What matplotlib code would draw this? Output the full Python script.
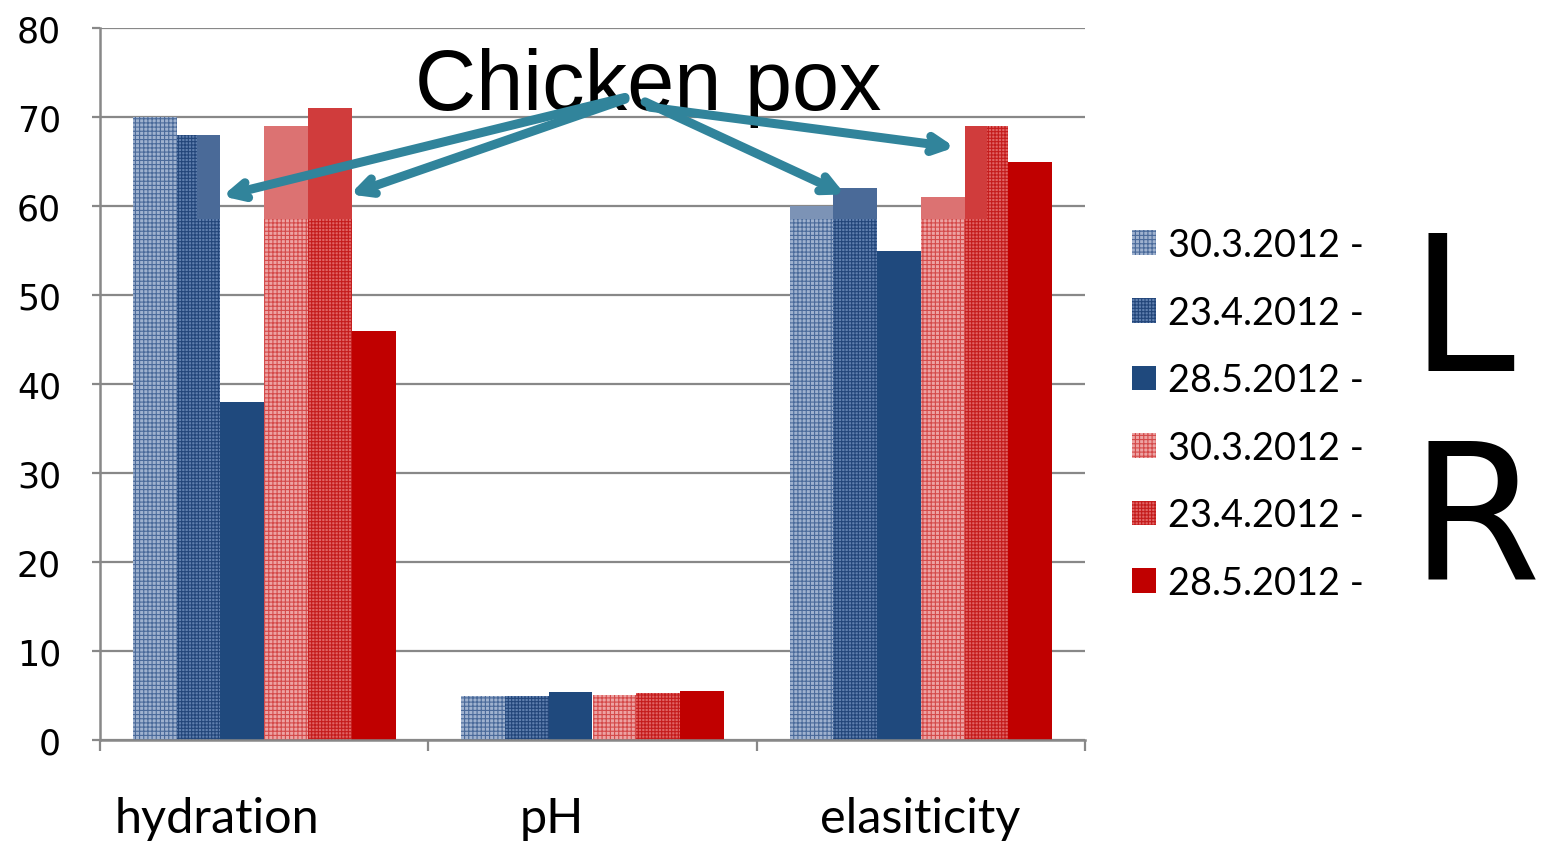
import matplotlib
matplotlib.use("Agg")
import matplotlib.pyplot as plt
from matplotlib.patches import Patch
import numpy as np

# ---- data -------------------------------------------------------------
categories = ["hydration", "pH", "elasiticity"]
series_labels = ["30.3.2012 -", "23.4.2012 -", "28.5.2012 -",
                 "30.3.2012 -", "23.4.2012 -", "28.5.2012 -"]
left_30_3 = [70, 4.9, 60]
left_23_4 = [68, 5.0, 62]
left_28_5 = [38, 5.4, 55]
right_30_3 = [69, 5.1, 61]
right_23_4 = [71, 5.3, 69]
right_28_5 = [46, 5.5, 65]
series_values = [left_30_3, left_23_4, left_28_5, right_30_3, right_23_4, right_28_5]
y_ticks = [0, 10, 20, 30, 40, 50, 60, 70, 80]

# ---- styles -----------------------------------------------------------
base_colors = ["#9fb2cf", "#5f7fae", "#1f497d", "#eda3a3", "#e06464", "#c00000"]
hatch_colors = ["#4a6a9a", "#23467a", "#1f497d", "#d44a4a", "#c41c1c", "#c00000"]
hatches = ["++++", "+++++", None, "++++", "+++++", None]
# solid wash over the upper part of the patterned bars
wash_colors = ["#7c93b6", "#4a6a98", None, "#dc7272", "#d03c3c", None]
WASH_FROM = 58.5
# horizontal extent (fraction of bar width) of the wash, per series and category
wash_extent = {
    (1, 0): (0.47, 1.0), (3, 0): (0.0, 1.0), (4, 0): (0.0, 1.0),
    (0, 2): (0.0, 1.0), (1, 2): (0.0, 1.0), (3, 2): (0.0, 1.0), (4, 2): (0.0, 0.5),
}

plt.rcParams["hatch.linewidth"] = 0.8
GRID = "#888888"

fig = plt.figure(figsize=(15.47, 8.45), dpi=100)
W, H = 1547, 845
ax = fig.add_axes([100 / W, 1 - 741 / H, 985 / W, 712 / H])

x = np.arange(len(categories))
n = len(series_values)
width = 0.8 / n

for i, vals in enumerate(series_values):
    pos = x + (i - (n - 1) / 2) * width
    ax.bar(pos, vals, width, color=base_colors[i], edgecolor=hatch_colors[i],
           hatch=hatches[i], linewidth=0, zorder=3)
    for j, v in enumerate(vals):
        if (i, j) in wash_extent and v > WASH_FROM:
            a, b = wash_extent[(i, j)]
            left = pos[j] - width / 2 + a * width
            ax.bar(left, v - WASH_FROM, (b - a) * width, bottom=WASH_FROM,
                   align="edge", color=wash_colors[i], linewidth=0, zorder=4)

ax.set_xlim(-0.5, len(categories) - 0.5)
ax.set_ylim(0, 80)
ax.set_yticks(y_ticks)
ax.set_yticklabels([str(t) for t in y_ticks], fontsize=25, family="DejaVu Sans")
ax.yaxis.grid(True, color=GRID, linewidth=1.6, zorder=1)
ax.set_axisbelow(True)

ax.set_xticks(np.arange(len(categories) + 1) - 0.5)
ax.set_xticklabels([])
ax.tick_params(axis="x", direction="out", length=8, width=1.6, color=GRID)
ax.tick_params(axis="y", direction="out", length=6, width=1.6, color=GRID, pad=22)

for s in ["top", "right"]:
    ax.spines[s].set_visible(False)
for s in ["left", "bottom"]:
    ax.spines[s].set_color(GRID)
    ax.spines[s].set_linewidth(1.8)
    ax.spines[s].set_zorder(5)

# category names below the axis
label_shift = [-0.144, -0.123, -0.002]
for j, name in enumerate(categories):
    ax.text(x[j] + label_shift[j], -0.11, name, transform=ax.get_xaxis_transform(),
            ha="center", va="center", fontsize=35, family="Lato")

# legend
handles = [Patch(facecolor=base_colors[i], edgecolor=hatch_colors[i],
                 hatch=hatches[i], linewidth=0) for i in range(n)]
fig.legend(handles, series_labels, loc="upper left",
           bbox_to_anchor=(1132 / W, 1 - 228 / H), frameon=False,
           prop={"family": "Lato", "size": 27.3}, labelspacing=0.833,
           handlelength=0.62, handleheight=0.62, handletextpad=0.33,
           borderpad=0, borderaxespad=0)

# big side letters
fig.text(1410 / W, 1 - 371 / H, "L", fontsize=136, family="DejaVu Sans",
         ha="left", va="baseline")
fig.text(1410 / W, 1 - 579 / H, "R", fontsize=136, family="DejaVu Sans",
         ha="left", va="baseline")

# annotation with arrows
ax.text(1.17, 70.95, "Chicken pox", fontsize=61, family="Liberation Sans",
        ha="center", va="baseline", zorder=6)
ARROW = "#31849b"
arrow_props = dict(arrowstyle="->,head_length=1.1,head_width=0.55", lw=6.5,
                   color=ARROW, shrinkA=0, shrinkB=0)
for start, end in [((1.099, 72.2), (-0.128, 61.1)),
                   ((1.099, 72.0), (0.261, 61.3)),
                   ((1.160, 71.7), (1.769, 61.3)),
                   ((1.175, 71.1), (2.104, 66.6))]:
    ax.annotate("", xy=end, xytext=start, arrowprops=arrow_props, zorder=7,
                annotation_clip=False)

fig.savefig("out.png", dpi=100)
